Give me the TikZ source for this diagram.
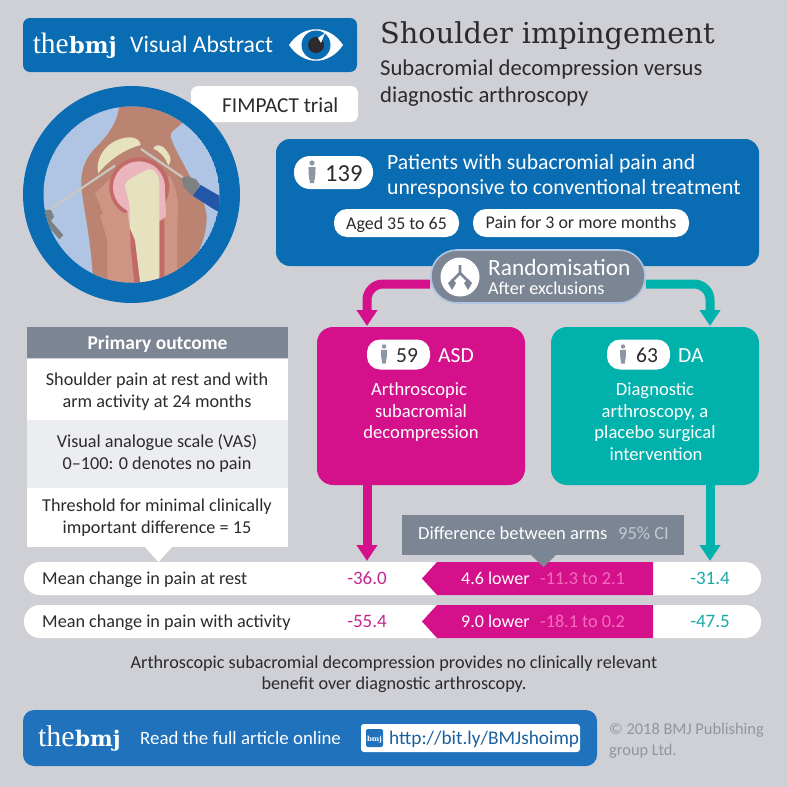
\documentclass[tikz,border=0pt]{standalone}
\usepackage{fontspec}
\setmainfont{Carlito}
\newfontfamily\slab{DejaVu Serif}
\newfontfamily\thinserif{Liberation Serif}
\usetikzlibrary{arrows.meta,calc}
\definecolor{bgc}{HTML}{CFD0D5}
\definecolor{bmjblue}{HTML}{0A6CB3}
\definecolor{footblue}{HTML}{1F72BB}
\definecolor{mag}{HTML}{D4118B}
\definecolor{teal2}{HTML}{00B1AC}
\definecolor{slate}{HTML}{7C8594}
\definecolor{ink}{HTML}{2B2B2E}
\definecolor{pale}{HTML}{ECEDF0}
\definecolor{pinkci}{HTML}{F56CBC}
\definecolor{magtxt}{HTML}{C4278F}
\definecolor{tealtxt}{HTML}{1AA8A8}
\definecolor{personc}{HTML}{8D96A3}
\definecolor{skyc}{HTML}{B0C4E4}
\definecolor{brownc}{HTML}{BB8372}
\definecolor{musc}{HTML}{CE9584}
\definecolor{bonec}{HTML}{E6E1BF}
\definecolor{headc}{HTML}{EBB5BE}
\definecolor{ringc}{HTML}{C26A68}
\definecolor{scopec}{HTML}{CAC6C2}
\definecolor{toolc}{HTML}{7F8082}
\definecolor{handlec}{HTML}{2356A8}
\tikzset{
  lab/.style={inner sep=0pt,anchor=base west,font=\fontsize{#1}{#1}\selectfont},
  clab/.style={inner sep=0pt,anchor=base,font=\fontsize{#1}{#1}\selectfont},
  flowarrow/.style={line width=9pt,rounded corners=16pt,-{Triangle[length=16pt,width=20pt]}},
  person/.pic={
    \fill[personc] (0,-10) circle (2.6);
    \fill[personc] (-3.6,-6) -- (3.6,-6) -- (3.2,3) -- (2,10) -- (-2,10) -- (-3.2,3) -- cycle;
  },
}
\begin{document}
\begin{tikzpicture}[x=1pt,y=-1pt]
\useasboundingbox (0,0) rectangle (787,787);
\fill[bgc] (0,0) rectangle (787,787);

% header
\path[fill=bmjblue,rounded corners=7pt] (23,18) rectangle (357,72);
\node[lab=29.5,text=white,anchor=base east] (the1) at (69,53) {\thinserif the};
\node[lab=22.5,text=white] (bmj1) at (69,53) {\slab\bfseries bmj};
\node[lab=23.7,text=white] (vis) at (130,52) {Visual Abstract};
% eye
\fill[white] (289,45) .. controls (303,24) and (329,24) .. (343,45) .. controls (329,66) and (303,66) .. (289,45) -- cycle;
\fill[bmjblue] (316,45) circle (14.5);
\fill[ink] (316,45) circle (8);
\fill[white] (318,38) -- (325,33) -- (321,43) -- cycle;

% trial label
\node[fill=white,rounded corners=7pt,minimum width=167pt,minimum height=36pt,inner sep=0pt] (trial) at (274.5,104) {};
\node[lab=21.3,text=ink] (trialt) at (222,112) {FIMPACT trial};

% title
\node[lab=28.8,text=ink] (title) at (380,43) {\slab Shoulder impingement};
\node[lab=22.65,text=ink] (sub1) at (380,75) {Subacromial decompression versus};
\node[lab=22.65,text=ink] (sub2) at (380,102) {diagnostic arthroscopy};

% illustration
\fill[bmjblue] (131.5,194.5) circle (108.5);
\begin{scope}
\clip (131.5,194.5) circle (88);
\fill[skyc] (131.5,194.5) circle (88);
\begin{scope}[shift={(40,100)},x=0.3333pt,y=-0.3333pt]
\fill[brownc] (238,0) .. controls (240,50) and (215,95) .. (170,140) .. controls (130,180) and (120,220) .. (125,270) .. controls (135,350) and (155,430) .. (160,560) -- (420,560) .. controls (470,470) and (500,420) .. (500,350) .. controls (495,300) and (470,260) .. (445,220) .. controls (425,180) and (405,150) .. (392,112) .. controls (388,95) and (405,90) .. (425,70) -- (480,0) -- cycle;
\fill[musc] (165,280) .. controls (185,325) and (200,370) .. (202,420) -- (202,560) -- (412,560) .. controls (412,460) and (410,380) .. (415,330) .. controls (415,290) and (405,260) .. (390,230) -- (250,200) -- cycle;
\fill[ringc] (298,262) circle (90);
\fill[musc] (262,338) -- (180,345) -- (202,420) -- (290,420) -- cycle;
\fill[headc] (297,262) circle (78);
\fill[headc] (255,290) -- (375,270) -- (378,350) -- (358,362) -- (270,385) -- cycle;
\fill[ringc] (270,385) -- (285,420) -- (304,560) -- (284,560) -- (272,440) -- cycle;
\fill[ringc] (358,365) -- (373,357) -- (373,560) -- (358,560) -- cycle;
\fill[bonec] (255,258) .. controls (258,235) and (290,228) .. (325,207) .. controls (345,208) and (358,225) .. (358,250) -- (358,560) -- (302,560) -- (285,420) -- (270,385) -- (268,310) -- cycle;
\fill[bonec] (175,220) .. controls (165,185) and (190,120) .. (265,112) .. controls (285,110) and (303,122) .. (302,135) .. controls (265,145) and (215,170) .. (175,220) -- cycle;
\fill[bonec] (340,145) .. controls (345,132) and (365,132) .. (378,150) .. controls (395,170) and (395,185) .. (385,197) .. controls (375,170) and (360,155) .. (340,145) -- cycle;
\draw[line width=2.2pt,color=scopec] (20,335) -- (225,197);
\draw[line width=2.2pt,color=scopec] (303,147) -- (428,232);
\fill[toolc] (425,236) -- (440,228) -- (468,238) -- (480,255) -- (456,287) -- (432,262) -- cycle;
\fill[handlec] (458,287) -- (482,255) -- (560,300) -- (560,345) -- (525,330) -- cycle;
\fill[toolc] (10,330) -- (33,330) -- (42,350) -- (33,363) -- (70,405) -- (58,418) -- (30,385) -- (10,350) -- cycle;
\end{scope}
\end{scope}

% patients box
\path[fill=bmjblue,rounded corners=14pt] (276,139) rectangle (759,266);
\node[fill=white,minimum width=79pt,minimum height=33pt,rounded corners=16pt,inner sep=0pt] (p139) at (333.5,172.5) {};
\pic at (312,173) {person};
\node[lab=24.5,text=ink] (n139) at (325,181) {139};
\node[lab=21.7,text=white] (pat1) at (387,169) {Patients with subacromial pain and};
\node[lab=21.7,text=white] (pat2) at (387,194) {unresponsive to conventional treatment};
\node[fill=white,rounded corners=13pt,minimum width=125pt,minimum height=28pt,inner sep=0pt] (aged) at (396.5,223) {};
\node[fill=white,rounded corners=13pt,minimum width=216pt,minimum height=28pt,inner sep=0pt] (painm) at (581,223) {};
\node[clab=17.9,text=ink] (agedt) at (396.5,229) {Aged 35 to 65};
\node[clab=17.9,text=ink] (paint) at (581,228.5) {Pain for 3 or more months};

% ASD and DA boxes
\node[fill=mag,rounded corners=16pt,minimum width=208pt,minimum height=158pt,inner sep=0pt] (asd) at (421,406) {};
\node[fill=teal2,rounded corners=16pt,minimum width=208pt,minimum height=158pt,inner sep=0pt] (da) at (655,406) {};
\coordinate (asdin) at (367,326);
\coordinate (dain) at (710,326);
\coordinate (asdout) at (367,485);
\coordinate (daout) at (710,485);

% randomisation
\node[fill=slate,draw=skyc,line width=1.6pt,rounded corners=26pt,minimum width=214pt,minimum height=53pt,inner sep=0pt] (rand) at (538,276.5) {};
\draw[flowarrow,draw=mag] (rand.west |- 0,284) -- (367,284) -- (asdin);
\draw[flowarrow,draw=teal2] (rand.east |- 0,284) -- (710,284) -- (dain);
\fill[white] (460,277) circle (19.5);
\draw[slate,line width=2.6pt,line join=round] (460,265) -- (460,273) -- (452,281) -- (452,286);
\draw[slate,line width=2.6pt,line join=round] (460,273) -- (468,281) -- (468,286);
\fill[slate] (448,283) -- (452,279) -- (456,283) -- (452,290) -- cycle;
\fill[slate] (464,283) -- (468,279) -- (472,283) -- (468,290) -- cycle;
\node[lab=23.3,text=white] (randt) at (488,275) {Randomisation};
\node[lab=18.2,text=white] (rando) at (488,294) {After exclusions};

% ASD content
\node[fill=white,rounded corners=13pt,minimum width=63pt,minimum height=30pt,inner sep=0pt] (p59) at (398.5,354.5) {};
\pic[scale=0.85] at (384,355) {person};
\node[lab=21.5,text=ink] (n59) at (396,362) {59};
\node[lab=21.5,text=white] (tasd) at (438,362) {ASD};
\node[clab=18.6,text=white] (a1) at (419,395) {Arthroscopic};
\node[clab=18.6,text=white] (a2) at (421,417) {subacromial};
\node[clab=18.6,text=white] (a3) at (421,438) {decompression};
% DA content
\node[fill=white,rounded corners=13pt,minimum width=63pt,minimum height=30pt,inner sep=0pt] (p63) at (638.5,354.5) {};
\pic[scale=0.85] at (623,355) {person};
\node[lab=21.5,text=ink] (n63) at (636,362) {63};
\node[lab=21.5,text=white] (tda) at (678,362) {DA};
\node[clab=18.6,text=white] (d1) at (655,395) {Diagnostic};
\node[clab=18.6,text=white] (d2) at (655,417) {arthroscopy, a};
\node[clab=18.6,text=white] (d3) at (655,438) {placebo surgical};
\node[clab=18.6,text=white] (d4) at (656,460) {intervention};

% primary outcome panel
\fill[white] (27,359) rectangle (288,547);
\fill[pale] (27,420) rectangle (288,488);
\fill[slate] (27,327) rectangle (288,358);
\node[clab=19.5,text=white,font=\fontsize{19.5}{19.5}\selectfont\bfseries] (pot) at (157.5,349) {Primary outcome};
\node[clab=18.2,text=ink] (o1) at (157,385) {Shoulder pain at rest and with};
\node[clab=18.2,text=ink] (o2) at (157,407) {arm activity at 24 months};
\node[clab=18.2,text=ink] (o3) at (157,447) {Visual analogue scale (VAS)};
\node[clab=18.2,text=ink] (o4) at (157,469) {0–100: 0 denotes no pain};
\node[clab=18.2,text=ink] (o5) at (157,511) {Threshold for minimal clinically};
\node[clab=18.2,text=ink] (o6) at (157,533) {important difference = 15};

% rows
\node[fill=white,rounded corners=16pt,minimum width=737pt,minimum height=33pt,inner sep=0pt] (row1) at (392.5,578.5) {};
\node[fill=white,rounded corners=16pt,minimum width=737pt,minimum height=33pt,inner sep=0pt] (row2) at (392.5,621.5) {};
\fill[white] (144,546) -- (173,546) -- (158.5,562) -- cycle;
\fill[mag] (422,578.5) -- (437,562) -- (653,562) -- (653,595) -- (437,595) -- cycle;
\fill[mag] (422,621.5) -- (437,605) -- (653,605) -- (653,638) -- (437,638) -- cycle;
\node[lab=18.2,text=ink] (r1) at (42,584) {Mean change in pain at rest};
\node[lab=18.2,text=ink] (r2) at (42,627) {Mean change in pain with activity};
\node[clab=19,text=magtxt] (v1) at (367,584) {-36.0};
\node[clab=19,text=magtxt] (v2) at (367,627) {-55.4};
\node[clab=19,text=tealtxt] (w1) at (710,584) {-31.4};
\node[clab=19,text=tealtxt] (w2) at (710,627) {-47.5};
\node[lab=18,text=white] (l1) at (461,584) {4.6 lower};
\node[lab=18,text=white] (l2) at (461,627) {9.0 lower};
\node[lab=18.2,text=pinkci] (c1) at (540,584) {-11.3 to 2.1};
\node[lab=18.2,text=pinkci] (c2) at (540,627) {-18.1 to 0.2};

% arrows to rows
\draw[flowarrow,draw=mag] (asdout) -- (367,561);
\draw[flowarrow,draw=teal2] (daout) -- (710,561);

% difference
\fill[slate] (402,515) rectangle (684,555);
\fill[slate] (530,554) -- (557,554) -- (543.5,567) -- cycle;
\node[lab=18.5,text=white] (diff) at (418,539) {Difference between arms};
\node[lab=18.5,text=white!55!slate] (ci) at (618,539) {95\% CI};

% conclusion
\node[clab=18.2,text=ink] (con1) at (394,668) {Arthroscopic subacromial decompression provides no clinically relevant};
\node[clab=18.2,text=ink] (con2) at (394,689) {benefit over diagnostic arthroscopy.};

% footer
\path[fill=footblue,rounded corners=11pt] (23,710) rectangle (597,766);
\node[lab=30,text=white,anchor=base east] (the2) at (75,746) {\thinserif the};
\node[lab=21.5,text=white] (bmj2) at (75,746) {\slab\bfseries bmj};
\node[lab=18.85,text=white] (read) at (140,744) {Read the full article online};
\node[fill=white,rounded corners=3pt,minimum width=219pt,minimum height=28pt,inner sep=0pt] (urlb) at (470.5,738) {};
\path[fill=footblue,rounded corners=2pt] (366,729) rectangle (383,747);
\node[clab=7,text=white,font=\fontsize{7}{7}\selectfont\slab\bfseries] (bmji) at (374.5,741) {bmj};
\node[lab=19.3,text=footblue!85!black] (url) at (389,744) {http://bit.ly/BMJshoimp};
\node[lab=16.4,text=personc] (cp1) at (609,734) {© 2018 BMJ Publishing};
\node[lab=16.4,text=personc] (cp2) at (609,755) {group Ltd.};
\end{tikzpicture}
\end{document}
